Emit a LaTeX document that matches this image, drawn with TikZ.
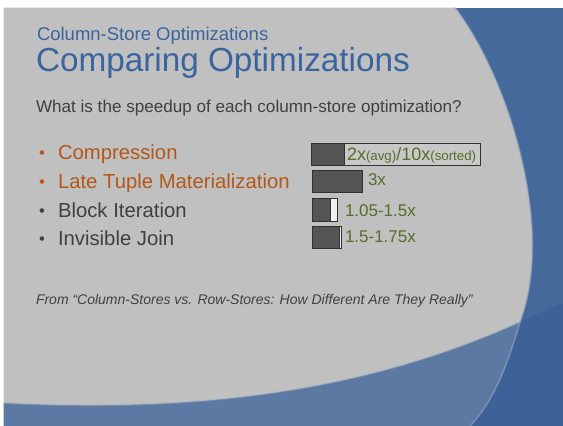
\documentclass[tikz,border=0pt]{standalone}
\usepackage{fontspec}
\setmainfont{Liberation Sans}

\definecolor{slideGray}{RGB}{192,192,192}
\definecolor{blueMain}{RGB}{69,105,155}
\definecolor{blueDeep}{RGB}{62,98,151}
\definecolor{blueLight}{RGB}{91,121,162}
\definecolor{rimBlue}{RGB}{150,168,192}
\definecolor{titleBlue}{RGB}{58,100,158}
\definecolor{bodyGray}{RGB}{64,64,64}
\definecolor{accent}{RGB}{178,88,26}
\definecolor{olive}{RGB}{88,108,44}
\definecolor{barDark}{RGB}{85,85,85}
\definecolor{barEdge}{RGB}{50,50,50}
\definecolor{barLight}{RGB}{200,200,200}
\definecolor{barWhite}{RGB}{242,242,242}

\begin{document}
\begin{tikzpicture}[x=1pt,y=-1pt,
  txt/.style={anchor=base west, inner sep=0pt, outer sep=0pt},
  bulletitem/.style={txt, font=\fontsize{20.3}{24}\selectfont},
  bulletdot/.style={txt, font=\fontsize{16.5}{18}\selectfont},
  barlabel/.style={txt, text=olive, font=\fontsize{17}{20}\selectfont},
  bardark/.style={fill=barDark, draw=barEdge, line width=0.9pt},
  barpale/.style={fill=barLight, draw=barEdge, line width=0.9pt},
  barwhite/.style={fill=barWhite, draw=barEdge, line width=0.9pt},
  rim/.style={draw=rimBlue, line width=1.6pt, opacity=0.55}]

\useasboundingbox (0,0) rectangle (563,426);
\fill[white] (0,0) rectangle (563,426);

% blue slide base
\fill[blueMain] (3.5,7.5) rectangle (563,426);
% deeper blue under the sweep, right of the arc
\fill[blueDeep] (520,322) .. controls (535,315) and (550,308) .. (563,303)
  -- (563,426) -- (470,426) .. controls (497,398) and (510,355) .. (520,322) -- cycle;
% lighter blue band under the gray panel
\fill[blueLight] (3.5,403) .. controls (220,414) and (380,385) .. (520,322)
  .. controls (510,355) and (497,398) .. (470,426) -- (3.5,426) -- cycle;
% gray content panel
\fill[slideGray] (3.5,7.5) -- (455,7.5) .. controls (510,80) and (555,230) .. (520,322)
  .. controls (380,385) and (220,414) .. (3.5,403) -- cycle;
% soft rims along the edges of the panel
\path[rim] (455,7.5) .. controls (510,80) and (555,230) .. (520,322)
  .. controls (510,355) and (497,398) .. (470,426);
\path[rim, opacity=0.4] (3.5,403) .. controls (220,414) and (380,385) .. (520,322);

% headings
\node[txt, text=titleBlue, font=\fontsize{18.5}{22}\selectfont] (sub) at (37,40) {Column-Store Optimizations};
\node[txt, text=titleBlue, font=\fontsize{33.3}{40}\selectfont] (title) at (36,71) {Comparing Optimizations};
\node[txt, text=bodyGray, font=\fontsize{17.1}{20}\selectfont] (question) at (36,112) {What is the speedup of each column-store optimization?};

% bullet list
\node[bulletdot, text=accent]    (dot1) at (39,158) {•};
\node[bulletitem, text=accent]   (item1) at (58,159) {Compression};
\node[bulletdot, text=accent]    (dot2) at (39,187) {•};
\node[bulletitem, text=accent]   (item2) at (58,188) {Late Tuple Materialization};
\node[bulletdot, text=bodyGray]  (dot3) at (39,216) {•};
\node[bulletitem, text=bodyGray] (item3) at (58,217) {Block Iteration};
\node[bulletdot, text=bodyGray]  (dot4) at (39,244) {•};
\node[bulletitem, text=bodyGray] (item4) at (58,245) {Invisible Join};

% speedup bars
\path[barpale] (311,143) rectangle (480,165);
\path[bardark] (311,143) rectangle (344,165);
\path[bardark] (312,170) rectangle (362,192);
\path[barwhite] (312,198) rectangle (337,221);
\path[bardark] (312,198) rectangle (330,221);
\path[barwhite] (312,226) rectangle (341,248);
\path[bardark] (312,226) rectangle (339,248);

% bar labels
\node[barlabel] (lab1) at (347,160) {{\fontsize{18}{20}\selectfont 2x}{\fontsize{13.3}{16}\selectfont (avg)}{\fontsize{18}{20}\selectfont /10x}{\fontsize{13.3}{16}\selectfont (sorted)}};
\node[barlabel] (lab2) at (368,185) {3x};
\node[barlabel] (lab3) at (345,216) {1.05-1.5x};
\node[barlabel] (lab4) at (345,242) {1.5-1.75x};

% source line
\node[txt, text=bodyGray, font=\itshape\fontsize{14}{17}\selectfont] (source) at (36,304) {From “Column-Stores vs. Row-Stores: How Different Are They Really”};
\end{tikzpicture}
\end{document}
